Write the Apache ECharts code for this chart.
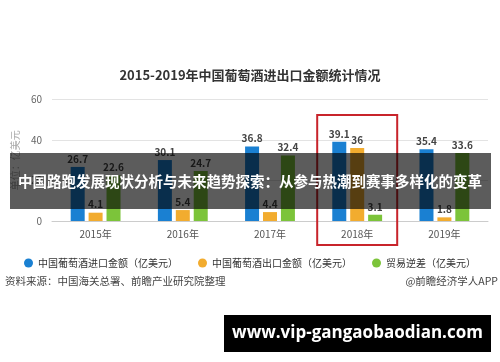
<!DOCTYPE html>
<html><head><meta charset="utf-8">
<script src="https://cdn.jsdelivr.net/npm/echarts@6/dist/echarts.min.js"></script>
<style>html,body{margin:0;padding:0;background:#fff}#c{width:500px;height:362px}</style>
</head><body><div id="c"></div>
<script>
const categories = ['2015年','2016年','2017年','2018年','2019年'];
const importValues = [26.7, 30.1, 36.8, 39.1, 35.4];
const exportValues = [4.1, 5.4, 4.4, 36, 1.8];
const deficitValues = [22.6, 24.7, 32.4, 3.1, 33.6];
const seriesNames = ['中国葡萄酒进口金额（亿美元）','中国葡萄酒出口金额（亿美元）','贸易逆差（亿美元）'];
const yTicks = [0, 20, 40, 60];
const highlightCategory = '2018年';

const font = '"Noto Sans CJK SC","Noto Sans",sans-serif';
const chart = echarts.init(document.getElementById('c'), null, {renderer:'canvas'});
const lbl = {show:true, position:'top', distance:3, color:'#444', fontSize:10, fontWeight:'bold', fontFamily:font};
chart.setOption({
  animation:false,
  backgroundColor:'#fff',
  title:{text:'2015-2019年中国葡萄酒进出口金额统计情况', left:'center', top:64,
    textStyle:{fontSize:13, fontWeight:'bold', color:'#333', fontFamily:font}},
  grid:{left:52, right:12, top:99.5, bottom:141},
  legend:{top:253, left:'center', icon:'circle', itemWidth:9, itemHeight:9, itemGap:20,
    textStyle:{fontSize:10, color:'#333', fontFamily:font}},
  xAxis:{type:'category', data:categories,
    axisLine:{lineStyle:{color:'#ccc'}}, axisTick:{alignWithLabel:true, length:4, lineStyle:{color:'#ccc'}},
    axisLabel:{color:'#555', fontSize:10, fontFamily:font, margin:8}},
  yAxis:{type:'value', min:yTicks[0], max:yTicks[yTicks.length-1], interval:20,
    name:'单位：亿美元', nameLocation:'middle', nameGap:30, nameRotate:90,
    nameTextStyle:{color:'#aaa', fontSize:10, fontFamily:font},
    axisLabel:{color:'#666', fontSize:10, fontFamily:font, margin:10},
    splitLine:{lineStyle:{color:'#e3e3e3'}}},
  series:[
    {name:seriesNames[0], type:'bar', data:importValues, barWidth:14, barGap:'28%', itemStyle:{color:'#1a80d2'}, label:lbl},
    {name:seriesNames[1], type:'bar', data:exportValues, barWidth:14, barGap:'28%', itemStyle:{color:'#f2ac2f'}, label:lbl},
    {name:seriesNames[2], type:'bar', data:deficitValues, barWidth:14, barGap:'28%', itemStyle:{color:'#7cc43a'}, label:lbl}
  ]
});
const cx = chart.convertToPixel({xAxisIndex:0}, highlightCategory);
const y0 = chart.convertToPixel({yAxisIndex:0}, 0);
const yTop = chart.convertToPixel({yAxisIndex:0}, 52.3);
chart.setOption({
  graphic:[
    {type:'rect', z:50, shape:{x:cx-40, y:yTop, width:80, height:(y0+24)-yTop}, style:{fill:'none', stroke:'#c8242b', lineWidth:2}},
    {type:'text', z:50, left:5, top:276, style:{text:'资料来源：中国海关总署、前瞻产业研究院整理', fill:'#444', font:'10.5px '+font}},
    {type:'text', z:50, right:2, top:276, style:{text:'@前瞻经济学人APP', fill:'#444', font:'10.5px '+font}},
    {type:'rect', z:100, shape:{x:10, y:153, width:481, height:56}, style:{fill:'rgba(0,0,0,0.64)'}},
    {type:'text', z:101, left:'center', top:174, style:{text:'中国路跑发展现状分析与未来趋势探索：从参与热潮到赛事多样化的变革', fill:'#fff', font:'bold 14.5px '+font}},
    {type:'rect', z:100, shape:{x:224, y:315, width:267, height:37}, style:{fill:'#000'}},
    {type:'text', z:101, x:357.5, y:333.5, style:{text:'www.vip-gangaobaodian.com', fill:'#fff', font:'bold 17px "Open Sans","DejaVu Sans",sans-serif', textAlign:'center', textVerticalAlign:'middle'}}
  ]
});
</script></body></html>
